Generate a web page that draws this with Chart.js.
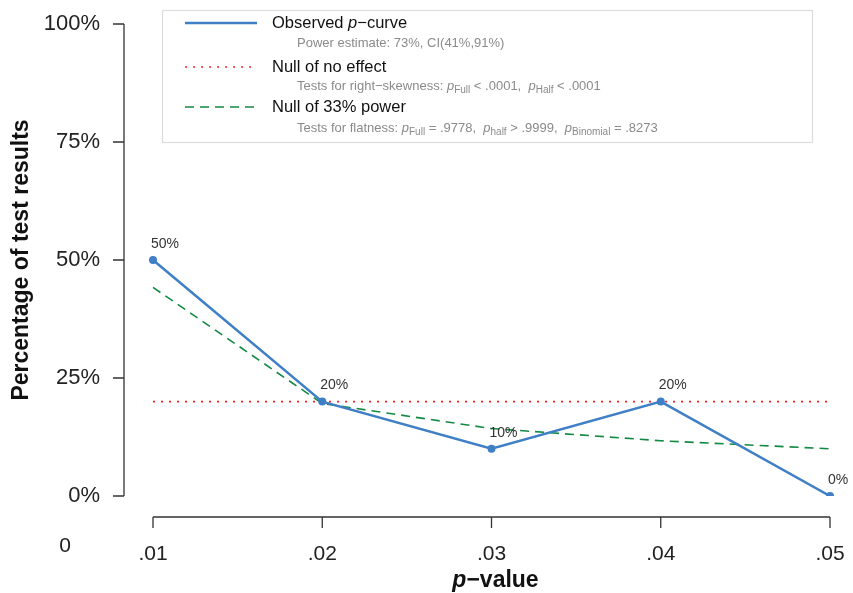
<!DOCTYPE html>
<html>
<head>
<meta charset="utf-8">
<script src="https://cdn.jsdelivr.net/npm/chart.js@4.4.1/dist/chart.umd.min.js"></script>
<style>
  html, body { margin: 0; padding: 0; background: #fff; }
  #wrap { width: 853px; height: 593px; position: relative; }
</style>
</head>
<body>
<div id="wrap"><canvas id="chart" width="853" height="593"></canvas></div>
<script>
// ── data ──
const pLabels = ['.01', '.02', '.03', '.04', '.05'];
const observed = [50, 20, 10, 20, 0];
const nullNoEffect = [20, 20, 20, 20, 20];
const null33 = [44.2, 19.6, 14.3, 11.7, 10.0];
const yTicks = [0, 25, 50, 75, 100];

const FONT = '"Liberation Sans", Arial, Helvetica, sans-serif';
const BLUE = '#3f7fc6';
const RED = '#ff2020';
const GREEN = '#128a43';

// legend rows: main label + a grey sub line made of segments
const legendRows = [
  { ds: 0, main: [{ t: 'Observed ' }, { t: 'p', it: true }, { t: '\u2212curve' }],
    sub: [{ t: 'Power estimate: 73%, CI(41%,91%)' }] },
  { ds: 1, main: [{ t: 'Null of no effect' }],
    sub: [{ t: 'Tests for right\u2212skewness: ' }, { t: 'p', it: true }, { t: 'Full', sb: true },
          { t: ' < .0001,  ' }, { t: 'p', it: true }, { t: 'Half', sb: true }, { t: ' < .0001' }] },
  { ds: 2, main: [{ t: 'Null of 33% power' }],
    sub: [{ t: 'Tests for flatness: ' }, { t: 'p', it: true }, { t: 'Full', sb: true },
          { t: ' = .9778,  ' }, { t: 'p', it: true }, { t: 'half', sb: true }, { t: ' > .9999,  ' },
          { t: 'p', it: true }, { t: 'Binomial', sb: true }, { t: ' = .8273' }] }
];

function drawSegs(ctx, segs, x, y, size, color) {
  ctx.fillStyle = color;
  ctx.textBaseline = 'middle';
  ctx.textAlign = 'left';
  segs.forEach(s => {
    const sz = s.sb ? Math.round(size * 0.78) : size;
    ctx.font = (s.it ? 'italic ' : '') + sz + 'px ' + FONT;
    ctx.fillText(s.t, x, s.sb ? y + size * 0.3 : y);
    x += ctx.measureText(s.t).width;
  });
}

// R-style detached axes, point labels, legend box
const rPlot = {
  id: 'rPlot',
  afterDraw(chart) {
    const ctx = chart.ctx;
    const xs = chart.scales.x, ys = chart.scales.y;
    ctx.save();

    // y axis
    const yx = xs.left - 29;
    ctx.strokeStyle = '#333';
    ctx.lineWidth = 1.3;
    ctx.beginPath();
    ctx.moveTo(yx, ys.getPixelForValue(100));
    ctx.lineTo(yx, ys.getPixelForValue(0));
    yTicks.forEach(v => {
      const py = ys.getPixelForValue(v);
      ctx.moveTo(yx, py);
      ctx.lineTo(yx - 11, py);
    });
    // x axis
    const xy = ys.bottom + 21;
    ctx.moveTo(xs.getPixelForValue(0), xy);
    ctx.lineTo(xs.getPixelForValue(pLabels.length - 1), xy);
    pLabels.forEach((l, i) => {
      const px = xs.getPixelForValue(i);
      ctx.moveTo(px, xy);
      ctx.lineTo(px, xy + 11);
    });
    ctx.stroke();

    // x title: italic p + "-value"
    ctx.fillStyle = '#111';
    ctx.textBaseline = 'middle';
    ctx.textAlign = 'left';
    ctx.font = 'italic bold 23px ' + FONT;
    const w1 = ctx.measureText('p').width;
    ctx.font = 'bold 23px ' + FONT;
    const w2 = ctx.measureText('\u2212value').width;
    const cx = (xs.left + xs.right) / 2 - (w1 + w2) / 2 + 4;
    ctx.font = 'italic bold 23px ' + FONT;
    ctx.fillText('p', cx, 581);
    ctx.font = 'bold 23px ' + FONT;
    ctx.fillText('\u2212value', cx + w1, 581);

    // stray "0" below the y axis
    ctx.font = '21px ' + FONT;
    ctx.fillStyle = '#222';
    ctx.textAlign = 'center';
    ctx.fillText('0', 65, 546);

    // point labels on the observed curve
    const meta = chart.getDatasetMeta(0);
    ctx.font = '14px ' + FONT;
    ctx.fillStyle = '#333';
    ctx.textAlign = 'left';
    meta.data.forEach((pt, i) => {
      ctx.fillText(observed[i] + '%', pt.x - 2, pt.y - 16);
    });

    // legend box
    ctx.fillStyle = '#fff';
    ctx.fillRect(162, 10, 650, 132);
    ctx.strokeStyle = '#dcdcdc';
    ctx.lineWidth = 1.2;
    ctx.strokeRect(162.5, 10.5, 650, 132);
    const rowY = [23, 67, 107];
    const subY = [43, 86, 128];
    legendRows.forEach((r, i) => {
      const ds = chart.data.datasets[r.ds];
      ctx.strokeStyle = ds.borderColor;
      ctx.lineWidth = ds.borderWidth;
      ctx.setLineDash(ds.borderDash || []);
      ctx.beginPath();
      ctx.moveTo(185, rowY[i]);
      ctx.lineTo(257, rowY[i]);
      ctx.stroke();
      ctx.setLineDash([]);
      drawSegs(ctx, r.main, 272, rowY[i], 16.5, '#111');
      drawSegs(ctx, r.sub, 297, subY[i], 13, '#8a8a8a');
    });

    ctx.restore();
  }
};

new Chart(document.getElementById('chart'), {
  type: 'line',
  data: {
    labels: pLabels,
    datasets: [
      {
        label: 'Observed p-curve',
        data: observed,
        borderColor: BLUE,
        backgroundColor: BLUE,
        borderWidth: 2.5,
        pointRadius: 4,
        pointBackgroundColor: BLUE,
        pointBorderWidth: 0,
        tension: 0,
        order: 0
      },
      {
        label: 'Null of no effect',
        data: nullNoEffect,
        borderColor: RED,
        borderWidth: 1.6,
        borderDash: [2, 6],
        pointRadius: 0,
        order: 1
      },
      {
        label: 'Null of 33% power',
        data: null33,
        borderColor: GREEN,
        borderWidth: 1.6,
        borderDash: [9, 6],
        pointRadius: 0,
        order: 2
      }
    ]
  },
  options: {
    responsive: false,
    animation: false,
    devicePixelRatio: 1,
    layout: { padding: { top: 24, right: 23, left: 0, bottom: 0 } },
    plugins: { legend: { display: false }, tooltip: { enabled: false } },
    scales: {
      x: {
        type: 'category',
        offset: false,
        grid: { display: false, drawTicks: true, tickLength: 43 },
        border: { display: false },
        ticks: { color: '#222', padding: 3, font: { family: FONT, size: 21 }, maxRotation: 0 },
        afterFit: s => { s.height = 97; }
      },
      y: {
        min: 0,
        max: 100,
        grid: { display: false, drawTicks: true, tickLength: 50 },
        border: { display: false },
        ticks: {
          stepSize: 25,
          color: '#222',
          padding: 3,
          font: { family: FONT, size: 22 },
          callback: v => v + '%'
        },
        title: {
          display: true,
          text: 'Percentage of test results',
          color: '#111',
          font: { family: FONT, size: 23, weight: 'bold' },
          padding: { top: 8, bottom: 0 }
        },
        afterFit: s => { s.width = 153; }
      }
    }
  },
  plugins: [rPlot]
});
</script>
</body>
</html>
